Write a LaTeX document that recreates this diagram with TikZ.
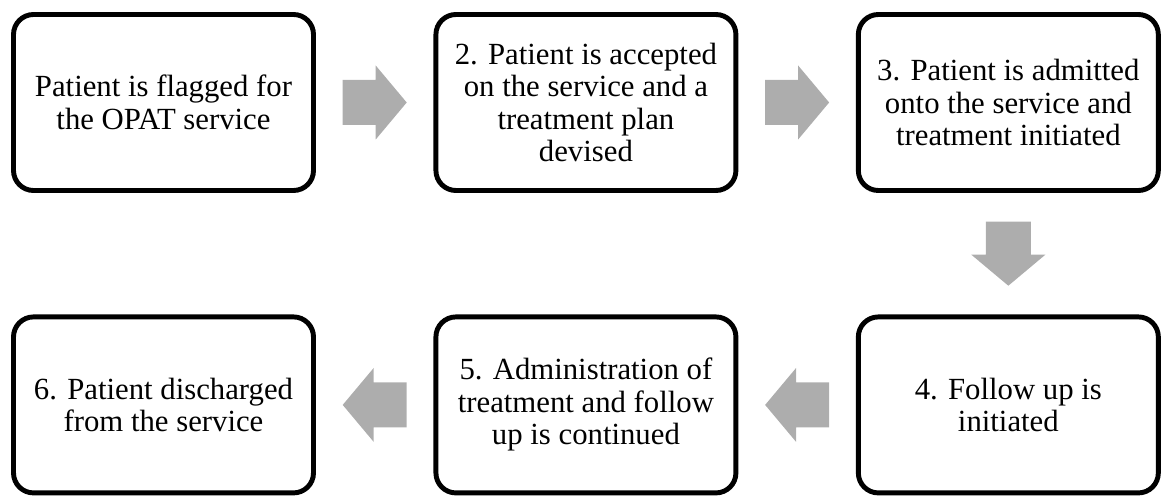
\documentclass[tikz,border=0pt]{standalone}
\usepackage{fontspec}
\setmainfont{Liberation Serif}
\usetikzlibrary{positioning, calc}
\definecolor{arrowgray}{RGB}{173,173,173}

\begin{document}
\begin{tikzpicture}[
    node distance=2.43cm and 2.35cm,
    font=\fontsize{17.5}{18.5}\selectfont,
    % Process steps and block arrows
    stepbox/.style={rectangle, draw=black, line width=2.8pt, rounded corners=0.4cm, minimum width=6cm, minimum height=3.52cm, align=center, inner sep=2pt},
    flowarr/.pic={\fill[arrowgray] (-0.64,0.45) -- (0.02,0.45) -- (0.02,0.74) -- (0.64,0) -- (0.02,-0.74) -- (0.02,-0.45) -- (-0.64,-0.45) -- cycle;}
]
\useasboundingbox (0,0) rectangle (23.28,-9.96);

% ========================================================
% TOP ROW
% ========================================================
\node[stepbox] (flagged) at (3.27,-2.05) {Patient is flagged for\\the OPAT service};
\node[stepbox, right=of flagged] (accepted) {2. Patient is accepted\\on the service and a\\treatment plan\\devised};
\node[stepbox, right=of accepted] (admitted) {3. Patient is admitted\\onto the service and\\treatment initiated};

\coordinate (arr12) at ($(flagged.east)!0.5!(accepted.west)$);
\coordinate (arr23) at ($(accepted.east)!0.5!(admitted.west)$);
\pic at (arr12) {flowarr};
\pic at (arr23) {flowarr};

% ========================================================
% BOTTOM ROW
% ========================================================
\node[stepbox, below=of admitted] (followup) {4. Follow up is\\initiated};
\node[stepbox, left=of followup] (continued) {5. Administration of\\treatment and follow\\up is continued};
\node[stepbox, left=of continued] (discharged) {6. Patient discharged\\from the service};

\coordinate (arr34) at ($(admitted.south)!0.5!(followup.north)$);
\coordinate (arr45) at ($(followup.west)!0.5!(continued.east)$);
\coordinate (arr56) at ($(continued.west)!0.5!(discharged.east)$);
\pic[rotate=-90] at (arr34) {flowarr};
\pic[rotate=180] at (arr45) {flowarr};
\pic[rotate=180] at (arr56) {flowarr};

\end{tikzpicture}
\end{document}
